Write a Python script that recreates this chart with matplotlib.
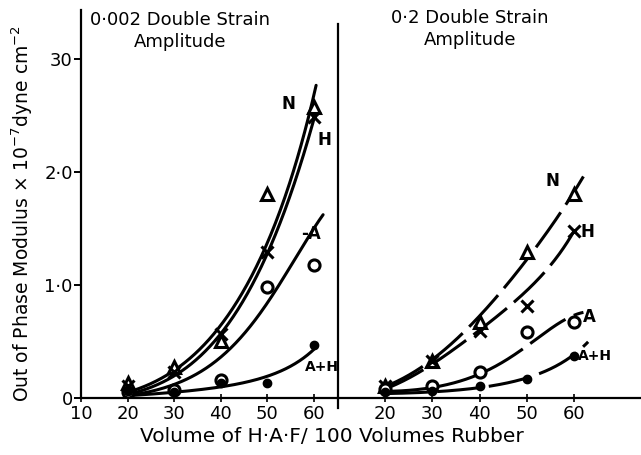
import numpy as np
import matplotlib
matplotlib.use("Agg")
import matplotlib.pyplot as plt

plt.rcParams['font.family'] = ['DejaVu Sans']

# ---- data (Out of phase modulus, x10^-7 dyne cm^-2) ----
x_pts = [20, 30, 40, 50, 60]

# 0.002 double strain amplitude
L_N = [0.13, 0.27, 0.50, 1.80, 2.57]
L_H = [0.11, 0.23, 0.57, 1.29, 2.48]
L_A = [0.05, 0.07, 0.16, 0.98, 1.18]
L_AH = [0.06, 0.05, 0.13, 0.13, 0.47]

# 0.2 double strain amplitude
R_N = [0.11, 0.33, 0.67, 1.29, 1.80]
R_H = [0.11, 0.33, 0.59, 0.81, 1.48]
R_A = [0.08, 0.11, 0.23, 0.58, 0.67]
R_AH = [0.05, 0.06, 0.11, 0.17, 0.37]

# smooth curves drawn by hand through the data
LC_N_x = [20, 30, 40, 50, 60.5]
LC_N_y = [0.05, 0.25, 0.62, 1.40, 2.75]
LC_H_x = [20, 30, 40, 50, 60]
LC_H_y = [0.03, 0.20, 0.55, 1.30, 2.45]
LC_A_x = [20, 30, 40, 50, 62]
LC_A_y = [0.02, 0.12, 0.36, 0.84, 1.62]
LC_AH_x = [20, 30, 40, 50, 60]
LC_AH_y = [0.02, 0.05, 0.10, 0.19, 0.43]

RC_N_x = [20, 30, 40, 50, 62]
RC_N_y = [0.10, 0.35, 0.70, 1.25, 1.95]
RC_H_x = [20, 30, 40, 50, 60.6]
RC_H_y = [0.08, 0.30, 0.60, 0.95, 1.52]
RC_A_x = [20, 30, 40, 50, 62]
RC_A_y = [0.06, 0.09, 0.22, 0.45, 0.76]
RC_AH_x = [20, 30, 40, 50, 63]
RC_AH_y = [0.04, 0.05, 0.10, 0.17, 0.50]

y_ticks = [0, 1, 2, 3]
y_ticklabels = ['0', '1·0', '2·0', '30']
xl_ticks = [10, 20, 30, 40, 50, 60]
xr_ticks = [20, 30, 40, 50, 60]

W, H = 641, 455
fig = plt.figure(figsize=(W / 100, H / 100), dpi=100)

ax1 = fig.add_axes([81 / W, 57 / H, (338 - 81) / W, 388 / H])
ax2 = fig.add_axes([338 / W, 57 / H, (641 - 338) / W, 388 / H])

ymax = 3.43
ax1.set_xlim(10, 65.2)
ax2.set_xlim(10, 74.2)
for ax in (ax1, ax2):
    ax.set_ylim(0, ymax)
    ax.patch.set_alpha(0)
    ax.spines['top'].set_visible(False)
    ax.spines['right'].set_visible(False)
    for s in ax.spines.values():
        s.set_linewidth(1.6)


def smooth(xs, ys, n=200):
    c = np.polyfit(xs, np.log(np.array(ys) + 0.05), 3)
    xx = np.linspace(xs[0], xs[-1], n)
    return xx, np.exp(np.polyval(c, xx)) - 0.05


lw = 2.2
for xs, ys in [(LC_N_x, LC_N_y), (LC_H_x, LC_H_y), (LC_A_x, LC_A_y), (LC_AH_x, LC_AH_y)]:
    xx, yy = smooth(xs, ys)
    ax1.plot(xx, yy, color='black', lw=lw, solid_capstyle='round')
for xs, ys in [(RC_N_x, RC_N_y), (RC_H_x, RC_H_y), (RC_A_x, RC_A_y), (RC_AH_x, RC_AH_y)]:
    xx, yy = smooth(xs, ys)
    ax2.plot(xx, yy, color='black', lw=lw, linestyle=(0, (14, 3)))

mk = dict(color='black', ls='none', markersize=8, markeredgewidth=2.2, zorder=5)
for ax, N, Hh, A, AH in [(ax1, L_N, L_H, L_A, L_AH), (ax2, R_N, R_H, R_A, R_AH)]:
    ax.plot(x_pts, N, marker='^', markerfacecolor='white', **mk)
    ax.plot(x_pts, Hh, marker='x', **mk)
    ax.plot(x_pts, A, marker='o', markerfacecolor='white', **mk)
    ax.plot(x_pts, AH, marker='o', markerfacecolor='black', markersize=6,
            color='black', ls='none', zorder=5)

# ticks
ax1.set_yticks(y_ticks)
ax1.set_yticklabels(y_ticklabels, fontsize=13)
ax1.tick_params(axis='y', direction='out', length=5, width=1.4, pad=1)
ax1.set_xticks(xl_ticks)
ax1.set_xticklabels([str(t) for t in xl_ticks], fontsize=13)
ax1.tick_params(axis='x', direction='inout', length=6, width=1.2, pad=2)
ax2.set_yticks([])
ax2.set_xticks(xr_ticks)
ax2.set_xticklabels([str(t) for t in xr_ticks], fontsize=13)
ax2.tick_params(axis='x', direction='inout', length=6, width=1.2, pad=2)

# divider line (left spine of right panel)
ax2.spines['left'].set_bounds(-0.09, 3.31)

# curve labels
tk = dict(fontsize=12, fontweight='bold', color='black')
ax1.text(54.5, 2.6, 'N', ha='center', va='center', **tk)
ax1.text(62.3, 2.28, 'H', ha='center', va='center', **tk)
ax1.text(59.5, 1.45, '-A', ha='center', va='center', **tk)
ax1.text(61.7, 0.27, 'A+H', ha='center', va='center', fontsize=10, fontweight='bold')
ax2.text(55.5, 1.92, 'N', ha='center', va='center', **tk)
ax2.text(62.8, 1.47, 'H', ha='center', va='center', **tk)
ax2.text(63.3, 0.72, 'A', ha='center', va='center', **tk)
ax2.text(64.5, 0.37, 'A+H', ha='center', va='center', fontsize=10, fontweight='bold')

# titles
fig.text(180 / W, 1 - 31 / H, '0·002 Double Strain\nAmplitude', ha='center', va='center',
         fontsize=13, linespacing=1.35)
fig.text(470 / W, 1 - 29 / H, '0·2 Double Strain\nAmplitude', ha='center', va='center',
         fontsize=13, linespacing=1.35)

fig.text(332 / W, 1 - 437 / H, 'Volume of H·A·F/ 100 Volumes Rubber', ha='center',
         va='center', fontsize=14.5)
fig.text(22 / W, 1 - 213 / H, 'Out of Phase Modulus × 10$^{-7}$dyne cm$^{-2}$',
         ha='center', va='center', rotation=90, fontsize=13.5)

fig.savefig('out.png', dpi=100)
